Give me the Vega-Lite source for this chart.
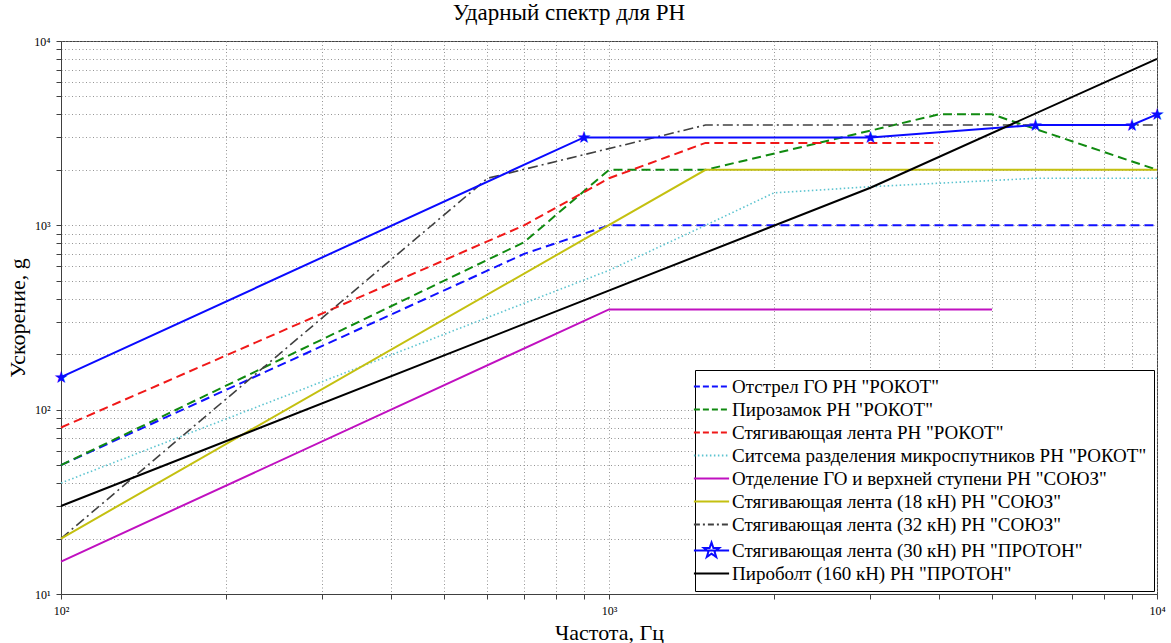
{
  "$schema": "https://vega.github.io/schema/vega-lite/v6.json",
  "width": 1171,
  "height": 643,
  "autosize": {"type": "fit", "contains": "padding"},
  "padding": {"left": 6, "top": 2, "right": 5, "bottom": 0},
  "background": "#ffffff",
  "title": {
    "text": "Ударный спектр для РН",
    "font": "Liberation Serif",
    "fontSize": 23,
    "fontWeight": "normal",
    "color": "#000000",
    "offset": 10,
    "dx": -40
  },
  "config": {
    "view": {"stroke": "#404040", "strokeWidth": 1},
    "axis": {
      "labelFont": "Liberation Serif",
      "titleFont": "Liberation Serif",
      "labelColor": "#000000",
      "titleColor": "#000000",
      "titleFontWeight": "normal",
      "domainColor": "#404040",
      "tickColor": "#404040",
      "gridColor": "#8a8a8a",
      "gridDash": [1, 2.5],
      "gridWidth": 1,
      "gridOpacity": 0.9
    }
  },
  "data": {
    "values": [
      {"series": "Отстрел ГО РН \"РОКОТ\"", "style": "dash", "f": 100, "a": 50},
      {"series": "Отстрел ГО РН \"РОКОТ\"", "style": "dash", "f": 700, "a": 700},
      {"series": "Отстрел ГО РН \"РОКОТ\"", "style": "dash", "f": 1000, "a": 1000},
      {"series": "Отстрел ГО РН \"РОКОТ\"", "style": "dash", "f": 10000, "a": 1000},
      {"series": "Пирозамок РН \"РОКОТ\"", "style": "dash", "f": 100, "a": 50},
      {"series": "Пирозамок РН \"РОКОТ\"", "style": "dash", "f": 700, "a": 810},
      {"series": "Пирозамок РН \"РОКОТ\"", "style": "dash", "f": 1000, "a": 2000},
      {"series": "Пирозамок РН \"РОКОТ\"", "style": "dash", "f": 1500, "a": 2000},
      {"series": "Пирозамок РН \"РОКОТ\"", "style": "dash", "f": 4000, "a": 4000},
      {"series": "Пирозамок РН \"РОКОТ\"", "style": "dash", "f": 5000, "a": 4000},
      {"series": "Пирозамок РН \"РОКОТ\"", "style": "dash", "f": 10000, "a": 2000},
      {"series": "Стягивающая лента РН \"РОКОТ\"", "style": "dash", "f": 100, "a": 80},
      {"series": "Стягивающая лента РН \"РОКОТ\"", "style": "dash", "f": 700, "a": 1000},
      {"series": "Стягивающая лента РН \"РОКОТ\"", "style": "dash", "f": 1000, "a": 1800},
      {"series": "Стягивающая лента РН \"РОКОТ\"", "style": "dash", "f": 1500, "a": 2800},
      {"series": "Стягивающая лента РН \"РОКОТ\"", "style": "dash", "f": 4000, "a": 2800},
      {"series": "Ситсема разделения микроспутников РН \"РОКОТ\"", "style": "dot", "f": 100, "a": 40},
      {"series": "Ситсема разделения микроспутников РН \"РОКОТ\"", "style": "dot", "f": 1000, "a": 570},
      {"series": "Ситсема разделения микроспутников РН \"РОКОТ\"", "style": "dot", "f": 1500, "a": 1000},
      {"series": "Ситсема разделения микроспутников РН \"РОКОТ\"", "style": "dot", "f": 2000, "a": 1500},
      {"series": "Ситсема разделения микроспутников РН \"РОКОТ\"", "style": "dot", "f": 3000, "a": 1620},
      {"series": "Ситсема разделения микроспутников РН \"РОКОТ\"", "style": "dot", "f": 6000, "a": 1800},
      {"series": "Ситсема разделения микроспутников РН \"РОКОТ\"", "style": "dot", "f": 10000, "a": 1800},
      {"series": "Отделение ГО и верхней ступени РН \"СОЮЗ\"", "style": "solid", "f": 100, "a": 15},
      {"series": "Отделение ГО и верхней ступени РН \"СОЮЗ\"", "style": "solid", "f": 1000, "a": 350},
      {"series": "Отделение ГО и верхней ступени РН \"СОЮЗ\"", "style": "solid", "f": 5000, "a": 350},
      {"series": "Стягивающая лента (18 кН) РН \"СОЮЗ\"", "style": "solid", "f": 100, "a": 20},
      {"series": "Стягивающая лента (18 кН) РН \"СОЮЗ\"", "style": "solid", "f": 1500, "a": 2000},
      {"series": "Стягивающая лента (18 кН) РН \"СОЮЗ\"", "style": "solid", "f": 10000, "a": 2000},
      {"series": "Стягивающая лента (32 кН) РН \"СОЮЗ\"", "style": "dashdot", "f": 100, "a": 20},
      {"series": "Стягивающая лента (32 кН) РН \"СОЮЗ\"", "style": "dashdot", "f": 600, "a": 1800},
      {"series": "Стягивающая лента (32 кН) РН \"СОЮЗ\"", "style": "dashdot", "f": 1500, "a": 3500},
      {"series": "Стягивающая лента (32 кН) РН \"СОЮЗ\"", "style": "dashdot", "f": 10000, "a": 3500},
      {"series": "Стягивающая лента (30 кН) РН \"ПРОТОН\"", "style": "star", "f": 100, "a": 150},
      {"series": "Стягивающая лента (30 кН) РН \"ПРОТОН\"", "style": "star", "f": 900, "a": 3000},
      {"series": "Стягивающая лента (30 кН) РН \"ПРОТОН\"", "style": "star", "f": 3000, "a": 3000},
      {"series": "Стягивающая лента (30 кН) РН \"ПРОТОН\"", "style": "star", "f": 6000, "a": 3500},
      {"series": "Стягивающая лента (30 кН) РН \"ПРОТОН\"", "style": "star", "f": 9000, "a": 3500},
      {"series": "Стягивающая лента (30 кН) РН \"ПРОТОН\"", "style": "star", "f": 10000, "a": 4000},
      {"series": "Пироболт  (160 кН) РН \"ПРОТОН\"", "style": "solid", "f": 100, "a": 30},
      {"series": "Пироболт  (160 кН) РН \"ПРОТОН\"", "style": "solid", "f": 3000, "a": 1600},
      {"series": "Пироболт  (160 кН) РН \"ПРОТОН\"", "style": "solid", "f": 10000, "a": 8000}
    ]
  },
  "encoding": {
    "x": {
      "field": "f",
      "type": "quantitative",
      "scale": {"type": "log", "domain": [100, 10000], "nice": false},
      "axis": {
        "title": "Частота, Гц",
        "titleFontSize": 22,
        "titlePadding": 6,
        "labelFontSize": 12,
        "labelPadding": 6,
        "tickSize": 5,
        "values": [100, 200, 300, 400, 500, 600, 700, 800, 900, 1000, 2000, 3000, 4000, 5000, 6000, 7000, 8000, 9000, 10000],
        "labelExpr": "datum.value == 100 ? '10²' : datum.value == 1000 ? '10³' : datum.value == 10000 ? '10⁴' : ''",
        "labelFlush": false,
        "labelOverlap": false,
        "grid": true
      }
    },
    "y": {
      "field": "a",
      "type": "quantitative",
      "scale": {"type": "log", "domain": [10, 10000], "nice": false},
      "axis": {
        "title": "Ускорение, g",
        "titleFontSize": 22,
        "titlePadding": 4,
        "labelFontSize": 12,
        "labelPadding": 6,
        "tickSize": 5,
        "values": [10, 20, 30, 40, 50, 60, 70, 80, 90, 100, 200, 300, 400, 500, 600, 700, 800, 900, 1000, 2000, 3000, 4000, 5000, 6000, 7000, 8000, 9000, 10000],
        "labelExpr": "datum.value == 10 ? '10¹' : datum.value == 100 ? '10²' : datum.value == 1000 ? '10³' : datum.value == 10000 ? '10⁴' : ''",
        "labelFlush": false,
        "labelOverlap": false,
        "grid": true
      }
    },
    "color": {
      "field": "series",
      "type": "nominal",
      "scale": {
        "domain": ["Отстрел ГО РН \"РОКОТ\"", "Пирозамок РН \"РОКОТ\"", "Стягивающая лента РН \"РОКОТ\"", "Ситсема разделения микроспутников РН \"РОКОТ\"", "Отделение ГО и верхней ступени РН \"СОЮЗ\"", "Стягивающая лента (18 кН) РН \"СОЮЗ\"", "Стягивающая лента (32 кН) РН \"СОЮЗ\"", "Стягивающая лента (30 кН) РН \"ПРОТОН\"", "Пироболт  (160 кН) РН \"ПРОТОН\""],
        "range": ["#1010ff", "#108a10", "#f01818", "#5cc4d0", "#c010c0", "#c4c010", "#404040", "#0a0aff", "#000000"]
      },
      "legend": {
        "title": null,
        "orient": "bottom-right",
        "offset": 3,
        "direction": "vertical",
        "fillColor": "#ffffff",
        "strokeColor": "#000000",
        "padding": 7,
        "labelFont": "Liberation Serif",
        "labelFontSize": 19,
        "labelColor": "#000000",
        "labelLimit": 600,
        "labelOffset": 11,
        "rowPadding": 3,
        "symbolType": "M-2.2,0H2.2",
        "symbolSize": 256,
        "symbolStrokeWidth": 2,
        "encode": {
          "symbols": {
            "update": {
              "shape": {"signal": "indexof(datum.value, '30 кН') >= 0 ? 'M-2.2,0H2.2M0,-1L0.235,-0.324L0.951,-0.309L0.38,0.124L0.588,0.809L0,0.4L-0.588,0.809L-0.38,0.124L-0.951,-0.309L-0.235,-0.324Z' : 'M-2.2,0H2.2'"},
              "strokeDash": {"signal": "indexof(datum.value, 'Ситсема') >= 0 ? [1.5, 2.5] : indexof(datum.value, 'РОКОТ') >= 0 ? [6, 3] : indexof(datum.value, '32 кН') >= 0 ? [6, 3, 2, 3] : [1, 0]"}
            }
          }
        }
      }
    }
  },
  "layer": [
    {
      "transform": [{"filter": "datum.style == 'dash'"}],
      "mark": {"type": "line", "strokeWidth": 2, "strokeDash": [9, 5]},
      "encoding": {}
    },
    {
      "transform": [{"filter": "datum.style == 'dot'"}],
      "mark": {"type": "line", "strokeWidth": 1.6, "strokeDash": [1.5, 2.5]},
      "encoding": {}
    },
    {
      "transform": [{"filter": "datum.style == 'dashdot'"}],
      "mark": {"type": "line", "strokeWidth": 1.6, "strokeDash": [10, 4, 2, 4]},
      "encoding": {}
    },
    {
      "transform": [{"filter": "datum.style == 'solid' || datum.style == 'star'"}],
      "mark": {"type": "line", "strokeWidth": 2},
      "encoding": {}
    },
    {
      "transform": [{"filter": "datum.style == 'star'"}],
      "mark": {"type": "text", "text": "★", "font": "DejaVu Sans", "fontSize": 17, "align": "center", "baseline": "middle", "dy": 1, "color": "#0a0aff"},
      "encoding": {"color": {"value": "#0a0aff"}}
    }
  ]
}
